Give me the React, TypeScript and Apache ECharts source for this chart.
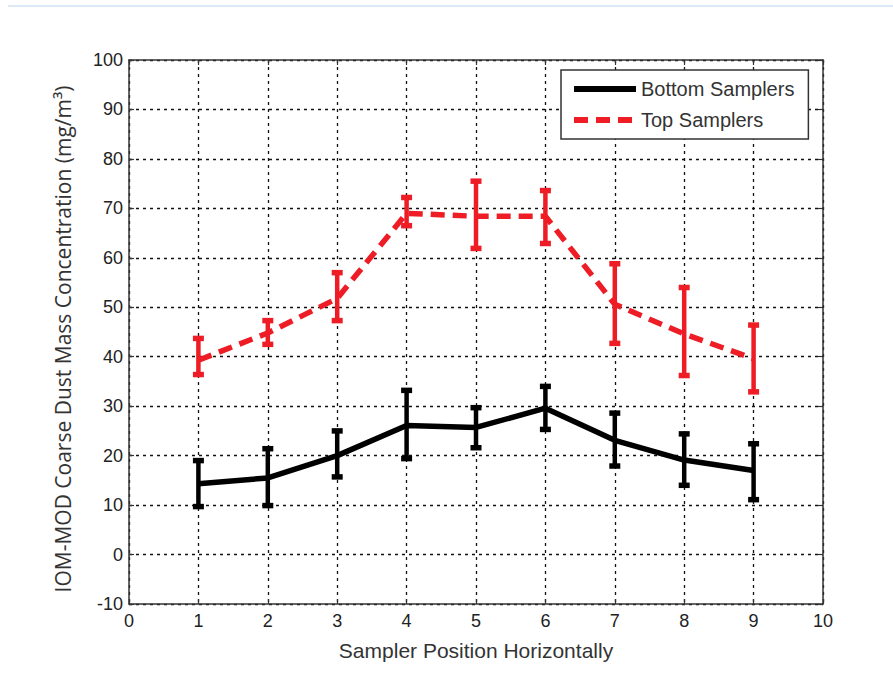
import React, { useEffect, useRef } from "react";
import * as echarts from "echarts";

const positions = [1, 2, 3, 4, 5, 6, 7, 8, 9];
const bottomMean = [14.3, 15.5, 20.0, 26.1, 25.7, 29.6, 23.1, 19.1, 17.0];
const bottomLow = [9.7, 9.9, 15.7, 19.4, 21.6, 25.3, 17.9, 14.0, 11.1];
const bottomHigh = [19.0, 21.4, 25.0, 33.2, 29.7, 34.0, 28.6, 24.4, 22.4];
const topMean = [39.3, 44.8, 51.8, 69.0, 68.4, 68.4, 50.6, 44.6, 39.6];
const topLow = [36.4, 42.5, 47.3, 66.5, 61.9, 62.9, 42.7, 36.2, 32.9];
const topHigh = [43.7, 47.3, 57.0, 72.2, 75.5, 73.6, 58.8, 54.0, 46.4];
const xTicks = { min: 0, max: 10, interval: 1 };
const yTicks = { min: -10, max: 100, interval: 10 };
const yTitle = "IOM-MOD Coarse Dust Mass Concentration (mg/m\u00b3)";
const xTitle = "Sampler Position Horizontally";

const BLACK = "#000000";
const RED = "#ee1c25";

function errorSeries(low: number[], high: number[], color: string) {
  return {
    type: "custom",
    silent: true,
    z: 5,
    data: positions.map((p, i) => [p, low[i], high[i]]),
    encode: { x: 0, y: [1, 2] },
    renderItem: (params: any, api: any) => {
      const x = api.value(0);
      const lo = api.coord([x, api.value(1)]);
      const hi = api.coord([x, api.value(2)]);
      const hw = 5.5;
      const style = { stroke: color, lineWidth: 4.5 };
      const cap = { stroke: color, lineWidth: 5.5 };
      return {
        type: "group",
        children: [
          { type: "line", shape: { x1: lo[0], y1: lo[1], x2: hi[0], y2: hi[1] }, style },
          { type: "line", shape: { x1: lo[0] - hw, y1: lo[1], x2: lo[0] + hw, y2: lo[1] }, style: cap },
          { type: "line", shape: { x1: hi[0] - hw, y1: hi[1], x2: hi[0] + hw, y2: hi[1] }, style: cap },
        ],
      };
    },
  };
}

export default function App() {
  const ref = useRef<HTMLDivElement>(null);
  useEffect(() => {
    if (!ref.current) return;
    const chart = echarts.init(ref.current, null, { renderer: "svg" });
    const axisLine = { show: true, onZero: false, lineStyle: { color: "#333", width: 1.5 } };
    const tick = { show: true, inside: true, length: 5, lineStyle: { color: "#333", width: 1.2 } };
    const grid = { show: true, lineStyle: { color: "#111", type: [3, 4], width: 1.3 } };
    const labelStyle = { color: "#222", fontSize: 18, fontFamily: "Liberation Sans" };
    chart.setOption({
      animation: false,
      backgroundColor: "#ffffff",
      graphic: [
        {
          type: "line",
          shape: { x1: 8, y1: 6, x2: 893, y2: 6 },
          style: { stroke: "#dce9f6", lineWidth: 2 },
        },
        {
          type: "text",
          x: 63,
          y: 339,
          rotation: Math.PI / 2,
          style: {
            text: yTitle,
            fontSize: 21,
            fill: "#333",
            fontFamily: "Open Sans",
            align: "center",
            verticalAlign: "middle",
          },
        },
      ],
      grid: { left: 129, right: 70, top: 60, bottom: 70 },
      legend: {
        left: 561,
        top: 70,
        orient: "vertical",
        data: ["Bottom Samplers", "Top Samplers"],
        itemWidth: 62,
        itemHeight: 18,
        itemGap: 11,
        padding: [9, 14, 9, 10],
        borderColor: "#333",
        borderWidth: 1.5,
        backgroundColor: "#ffffff",
        borderRadius: 0,
        itemStyle: { opacity: 0 },
        lineStyle: { width: 6 },
        textStyle: { fontSize: 20, color: "#333", fontFamily: "Liberation Sans" },
      },
      xAxis: [
        {
          type: "value",
          ...xTicks,
          position: "bottom",
          name: xTitle,
          nameLocation: "middle",
          nameGap: 36,
          nameTextStyle: { fontSize: 21, color: "#333", fontFamily: "Liberation Sans" },
          axisLine,
          axisTick: tick,
          axisLabel: { ...labelStyle, margin: 8 },
          splitLine: grid,
        },
        {
          type: "value",
          ...xTicks,
          position: "top",
          axisLine,
          axisTick: tick,
          axisLabel: { show: false },
          splitLine: { show: false },
        },
      ],
      yAxis: [
        {
          type: "value",
          ...yTicks,
          position: "left",
          axisLine,
          axisTick: tick,
          axisLabel: { ...labelStyle, margin: 6 },
          splitLine: grid,
        },
        {
          type: "value",
          ...yTicks,
          position: "right",
          axisLine,
          axisTick: tick,
          axisLabel: { show: false },
          splitLine: { show: false },
        },
      ],
      series: [
        {
          name: "Bottom Samplers",
          type: "line",
          data: positions.map((p, i) => [p, bottomMean[i]]),
          symbol: "none",
          lineStyle: { color: BLACK, width: 5.5 },
          itemStyle: { color: BLACK },
          z: 4,
        },
        {
          name: "Top Samplers",
          type: "line",
          data: positions.map((p, i) => [p, topMean[i]]),
          symbol: "none",
          lineStyle: { color: RED, width: 5.5, type: [14, 8] },
          itemStyle: { color: RED },
          z: 4,
        },
        errorSeries(bottomLow, bottomHigh, BLACK),
        errorSeries(topLow, topHigh, RED),
      ],
    });
    return () => chart.dispose();
  }, []);
  return (
    <div
      ref={ref}
      style={{ position: "absolute", left: 0, top: 0, width: 893, height: 674 }}
    />
  );
}
